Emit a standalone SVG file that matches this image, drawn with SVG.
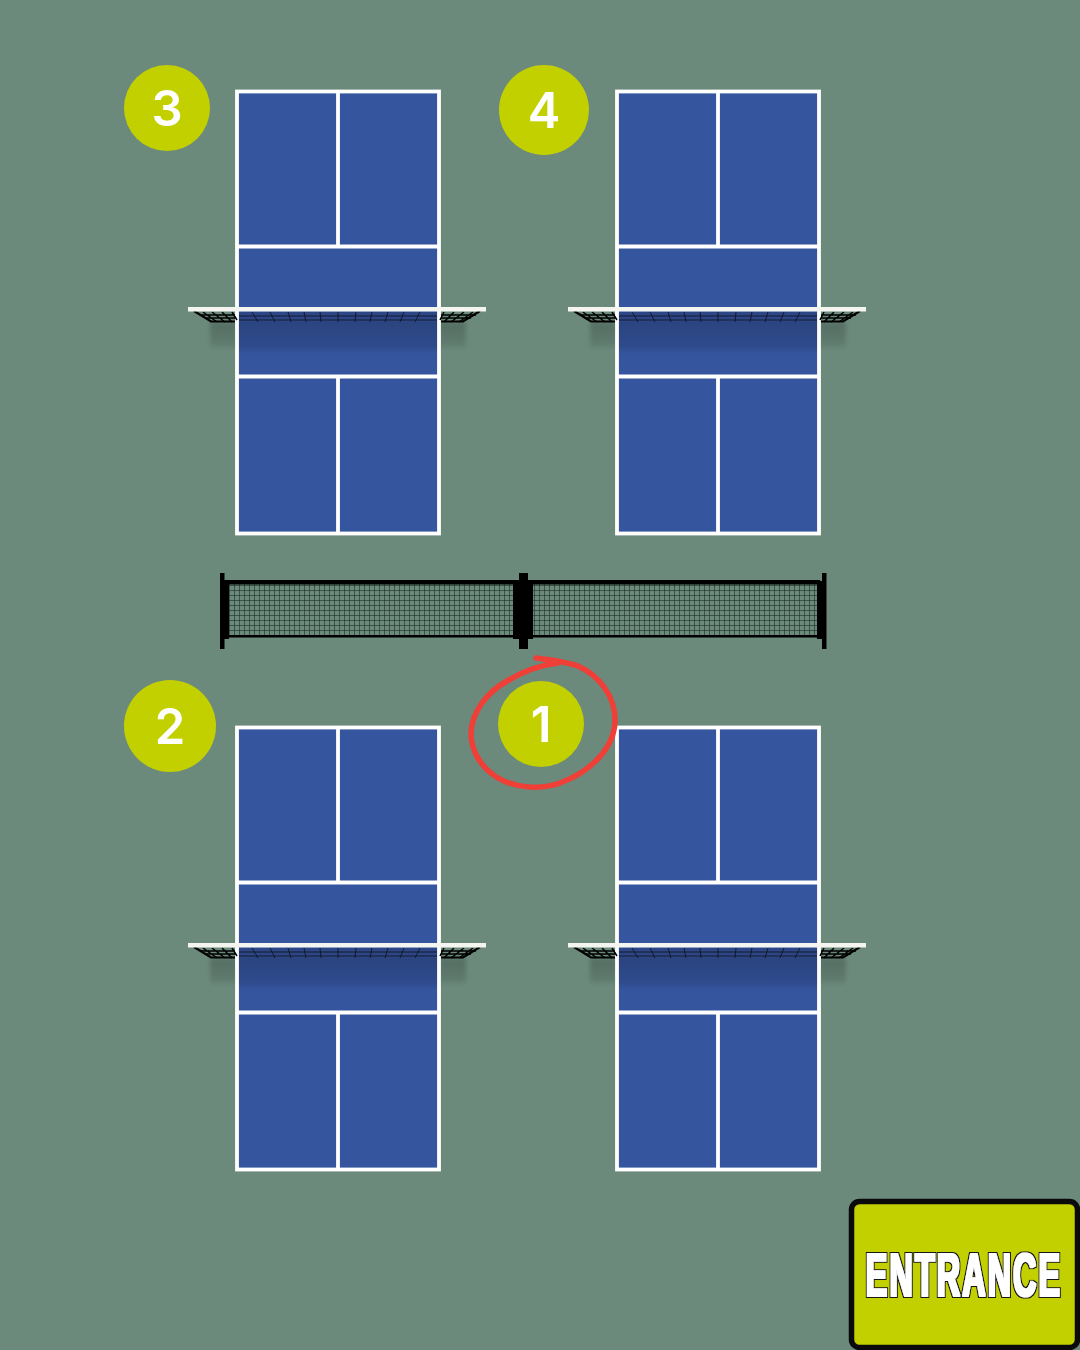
<svg xmlns="http://www.w3.org/2000/svg" width="1080" height="1350" viewBox="0 0 1080 1350">
<style>
.line{stroke:#fff;stroke-width:3.800;fill:none}
.badge{fill:#c3d000}
.num{font-family:Inter,"Liberation Sans",Arial,sans-serif;font-weight:600;fill:#fff;text-anchor:middle;font-size:49px}
.blk{fill:#000}
</style>
<defs>
<pattern id="mesh" width="5" height="5" patternUnits="userSpaceOnUse" x="229" y="585">
<path d="M0 .5H5M.5 0V5" stroke="#1c2f28" stroke-width="1" fill="none" opacity=".6"/>
</pattern>
<linearGradient id="sh" x1="0" y1="0" x2="0" y2="1">
<stop offset="0" stop-color="#000" stop-opacity=".2"/>
<stop offset=".75" stop-color="#000" stop-opacity=".12"/>
<stop offset="1" stop-color="#000" stop-opacity="0"/>
</linearGradient>
<filter id="soft" x="-20%" y="-30%" width="140%" height="160%"><feGaussianBlur stdDeviation="2"/></filter>
<filter id="outline" x="-5%" y="-15%" width="110%" height="130%">
<feMorphology in="SourceAlpha" operator="dilate" radius="2.200" result="outer"/>
<feFlood flood-color="#151515"/><feComposite in2="outer" operator="in" result="dark"/>
<feMorphology in="SourceAlpha" operator="dilate" radius=".5" result="inner"/>
<feFlood flood-color="#fff"/><feComposite in2="inner" operator="in" result="light"/>
<feMerge><feMergeNode in="dark"/><feMergeNode in="light"/></feMerge>
</filter>
<g id="court">
<rect x="237" y="91.500" width="202" height="442" fill="#35559f"/>
<rect x="210" y="322" width="27" height="28" fill="url(#sh)" filter="url(#soft)"/>
<rect x="439" y="322" width="27" height="28" fill="url(#sh)" filter="url(#soft)"/>
<rect x="238" y="322" width="200" height="32" fill="url(#sh)"/>
<rect x="237" y="91.500" width="202" height="442" class="line"/>
<path class="line" d="M237 246.500H439M237 376.500H439M338 91.500V246.500M338 376.500V533.500"/>
<path d="M239 312H437V322H239Z" fill="#10182c" opacity=".22"/>
<path d="M252 312L258 322M270 312L275 322M288 312L291 322M304 312L306 322M320 312L321 322M338 312V322M356 312L355 322M372 312L370 322M388 312L385 322M404 312L400 322M420 312L415 322M239 316H437M239 320H437" stroke="#0b0f1c" stroke-width="1" fill="none" opacity=".8"/>
<path d="M194 311L211 321.500H235M480 311L463 321.500H441" stroke="#000" stroke-width="2.200" fill="none"/>
<path d="M203 312L217 322M212 312L225 322M222 312L232 322M232 312L237 320M473 312L459 322M464 312L451 322M454 312L444 322M444 312L440 320M200 315H235M476 315H441M205 318H235M471 318H441" stroke="#000" stroke-width="1.500" fill="none"/>
<rect x="188" y="307" width="298" height="4.500" fill="#f4f5f0"/>
</g>
</defs>
<rect id="background" width="1080" height="1350" fill="#6b8a7c"/>
<g id="court-3"><use href="#court"/></g>
<g id="court-4"><use href="#court" x="380"/></g>
<g id="court-2"><use href="#court" y="636"/></g>
<g id="court-1"><use href="#court" x="380" y="636"/></g>
<g id="fence">
<rect x="226" y="584" width="292" height="52" fill="url(#mesh)"/>
<rect x="530" y="584" width="290" height="52" fill="url(#mesh)"/>
<rect class="blk" x="224" y="580" width="596" height="4.500"/>
<rect class="blk" x="224" y="635" width="596" height="2.500"/>
<rect class="blk" x="220" y="573" width="4.500" height="76"/>
<rect class="blk" x="224" y="581" width="5" height="58"/>
<rect class="blk" x="513" y="581" width="20" height="58"/>
<rect class="blk" x="519" y="573" width="9" height="76"/>
<rect class="blk" x="817" y="581" width="6" height="58"/>
<rect class="blk" x="822" y="573" width="4.500" height="76"/>
</g>
<g id="badge-3"><circle class="badge" cx="167" cy="108" r="43"/><text class="num" x="167" y="126">3</text></g>
<g id="badge-4"><circle class="badge" cx="544" cy="110" r="45"/><text class="num" x="544" y="128">4</text></g>
<g id="badge-2"><circle class="badge" cx="170" cy="726" r="46"/><text class="num" x="170" y="744">2</text></g>
<g id="badge-1"><circle class="badge" cx="541" cy="724" r="43"/><text class="num" x="541" y="742">1</text></g>
<path id="red-circle" d="M536 658C552 660 566 662 578 666C598 675 615 695 615 720C615 748 590 772 560 783C540 790 515 788 498 778C480 767 471 750 471 733C472 712 486 693 507 681C522 672 540 665 558 663" fill="none" stroke="#ef3f36" stroke-width="5.500" stroke-linecap="round"/>
<g id="entrance">
<rect x="851.500" y="1201.500" width="226" height="146" rx="8" fill="#c3d000" stroke="#0a0a0a" stroke-width="5.500"/>
<g filter="url(#outline)"><text transform="translate(964,1296) scale(.53,1)" text-anchor="middle" font-family="'Liberation Sans',Arial,sans-serif" font-weight="700" font-size="61" letter-spacing="4" fill="#fff">ENTRANCE</text></g>
</g>
</svg>
